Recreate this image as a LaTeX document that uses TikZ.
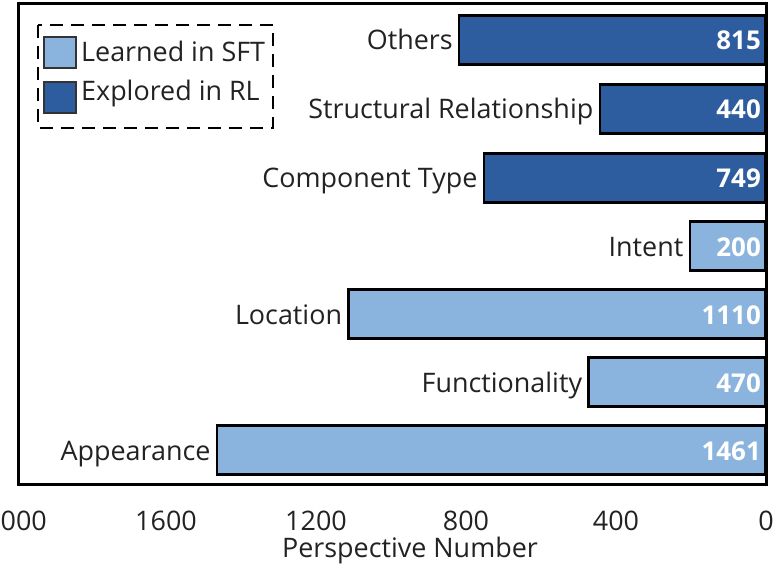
\documentclass[tikz,border=0pt]{standalone}
\usepackage{fontspec}
\setmainfont{Open Sans}
\usetikzlibrary{calc}
\definecolor{lightbar}{HTML}{8AB4DE}
\definecolor{darkbar}{HTML}{2D5D9F}
\definecolor{txt}{HTML}{222222}
\begin{document}
\begin{tikzpicture}[x=1bp,y=-1bp,
  lbl/.style={font=\fontsize{27}{30}\selectfont, text=txt, inner sep=0pt},
  val/.style={font=\fontsize{26}{30}\selectfont\bfseries, text=white, inner sep=0pt, anchor=base east},
  barbox/.style={draw=black, line width=2.5bp, inner sep=0pt, minimum height=49bp, anchor=east},
  swatch/.style={draw=black!80, line width=1.5bp, inner sep=0pt, minimum width=32bp, minimum height=31bp}]
\useasboundingbox (0,0) rectangle (782,570);
% bars
\foreach \v/\y/\lab/\c [count=\i] in {
  815/40/Others/darkbar,
  440/109/Structural Relationship/darkbar,
  749/178/Component Type/darkbar,
  200/246/Intent/lightbar,
  1110/314/Location/lightbar,
  470/382/Functionality/lightbar,
  1461/450/Appearance/lightbar}{
  \pgfmathsetmacro{\w}{0.375*\v}
  \node[barbox, fill=\c, minimum width=\w bp] (b\i) at (766,\y) {};
  \node[lbl, anchor=base east] (l\i) at ($(b\i.west)+(-5,10)$) {\lab};
  \node[val] (v\i) at ($(b\i.east)+(-5,10)$) {\v};
}
% frame
\draw[line width=3bp] (18,4) rectangle (766,484);
% ticks
\foreach \t in {0,400,800,1200,1600,2000}{
  \node[lbl, anchor=base] (t\t) at ({766-0.375*\t},530) {\t};
}
\node[lbl, anchor=base] (xl) at (410,557) {Perspective Number};
% legend
\draw[line width=2.8bp, dash pattern=on 13bp off 8bp] (38,25) rectangle (273,128);
\node[swatch, fill=lightbar] (s1) at (60,52.5) {};
\node[swatch, fill=darkbar] (s2) at (60,97.5) {};
\node[lbl, anchor=base west] (lt1) at (81,62) {Learned in SFT};
\node[lbl, anchor=base west] (lt2) at (81,101) {Explored in RL};
\end{tikzpicture}
\end{document}
